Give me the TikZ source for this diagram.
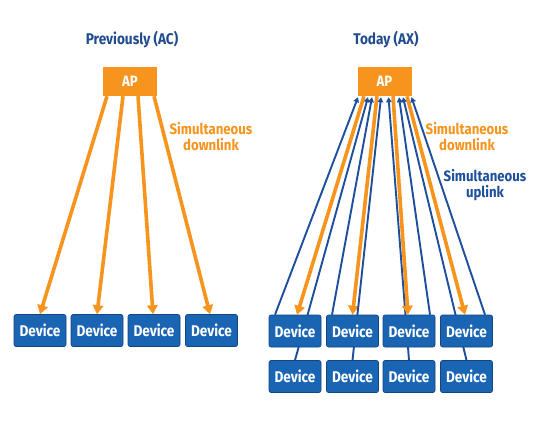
\documentclass[tikz,border=0pt]{standalone}
\usepackage{fontspec}
\setmainfont{Fira Sans}[FakeStretch=0.88]
\usetikzlibrary{arrows.meta}
\pgfdeclarelayer{bg}
\pgfdeclarelayer{lines}
\pgfsetlayers{bg,lines,main}
\definecolor{orng}{HTML}{F7941D}
\definecolor{devblue}{HTML}{1A64B4}
\definecolor{navy}{HTML}{1F4C8F}
\definecolor{upblue}{HTML}{1D4F9C}
\tikzset{
  apbox/.style={fill=orng, minimum width=54pt, minimum height=29pt, inner sep=0pt,
     text=white, font=\bfseries\fontsize{15}{15}\selectfont},
  devbox/.style={fill=devblue, draw=devblue!70!black, line width=0.6pt, rounded corners=2pt,
     minimum width=52pt, minimum height=32pt, inner sep=0pt,
     text=white, font=\bfseries\fontsize{15.5}{15.5}\selectfont},
  title/.style={text=navy, font=\bfseries\fontsize{15.5}{15.5}\selectfont},
  downlbl/.style={text=orng, align=center, font=\bfseries\fontsize{15}{16}\selectfont},
  uplbl/.style={text=upblue, align=center, font=\bfseries\fontsize{15}{16}\selectfont},
  down/.style={draw=orng, line width=3.6pt, -{Triangle[length=9pt,width=10.5pt]}},
  up/.style={draw=upblue, line width=1.9pt, -{Triangle[length=5pt,width=5.5pt]}},
}
\begin{document}
\begin{tikzpicture}[x=1pt,y=-1pt]
\begin{pgfonlayer}{bg}
\fill[white] (0,0) rectangle (557,424);
\end{pgfonlayer}
\useasboundingbox (0,0) rectangle (557,424);

% titles
\node[title] (t1) at (132,40) {Previously (AC)};
\node[title] (t2) at (386,40) {Today (AX)};

% AP boxes
\node[apbox] (ap1) at (130,81.5) {AP};
\node[apbox] (ap2) at (384.5,81.5) {AP};

% left devices
\node[devbox] (l1) at (40,330.5) {Device};
\node[devbox] (l2) at (97,330.5) {Device};
\node[devbox] (l3) at (154,330.5) {Device};
\node[devbox] (l4) at (211.5,330.5) {Device};

% right devices
\node[devbox] (r1) at (295,331) {Device};
\node[devbox] (r2) at (352.5,331) {Device};
\node[devbox] (r3) at (409,331) {Device};
\node[devbox] (r4) at (466.5,331) {Device};
\node[devbox] (s1) at (295,376.5) {Device};
\node[devbox] (s2) at (352.5,376.5) {Device};
\node[devbox] (s3) at (409,376.5) {Device};
\node[devbox] (s4) at (466.5,376.5) {Device};

% labels
\node[downlbl] (dl1) at (211,137) {Simultaneous\\downlink};
\node[downlbl] (dl2) at (467,137) {Simultaneous\\downlink};
\node[uplbl] (ul2) at (485,185) {Simultaneous\\uplink};

\begin{pgfonlayer}{lines}
% left downlinks
\draw[down] ([xshift=-23pt]ap1.south) -- (l1.north);
\draw[down] ([xshift=-7pt]ap1.south) -- (l2.north);
\draw[down] ([xshift=8pt]ap1.south) -- ([xshift=-1pt]l3.north);
\draw[down] ([xshift=24pt]ap1.south) -- ([xshift=-1.5pt]l4.north);

% right: column 1
\draw[up] ([xshift=-20pt]r1.north) -- ([xshift=-26.5pt,yshift=-1pt]ap2.south);
\draw[down] ([xshift=-20.5pt]ap2.south) -- ([xshift=2pt]r1.north);
\draw[up] (s1.north) -- ([xshift=-16.5pt,yshift=-1pt]ap2.south);
% column 2
\draw[up] ([xshift=-20.5pt]r2.north) -- ([xshift=-12.5pt,yshift=-1pt]ap2.south);
\draw[down] ([xshift=-7.5pt]ap2.south) -- (r2.north);
\draw[up] (s2.north) -- ([xshift=-3.5pt,yshift=-1pt]ap2.south);
% column 3
\draw[up] (s3.north) -- ([xshift=4pt,yshift=-1pt]ap2.south);
\draw[down] ([xshift=8.5pt]ap2.south) -- ([xshift=-1pt]r3.north);
\draw[up] ([xshift=21pt]r3.north) -- ([xshift=14.5pt,yshift=-1pt]ap2.south);
% column 4
\draw[up] (s4.north) -- ([xshift=18.5pt,yshift=-1pt]ap2.south);
\draw[down] ([xshift=22.5pt]ap2.south) -- ([xshift=-1.5pt]r4.north);
\draw[up] ([xshift=18.5pt]r4.north) -- ([xshift=27pt,yshift=-1pt]ap2.south);
\end{pgfonlayer}
\end{tikzpicture}
\end{document}
